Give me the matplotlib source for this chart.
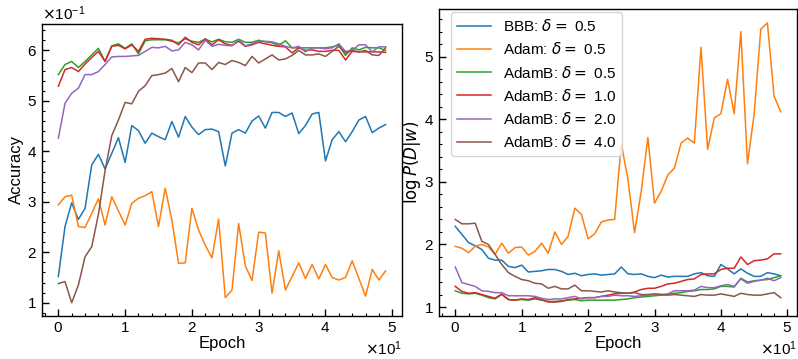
import numpy as np
import matplotlib
matplotlib.use("Agg")
import matplotlib.pyplot as plt

plt.rcParams['font.family'] = ['Liberation Sans', 'DejaVu Sans']
plt.rcParams['axes.linewidth'] = 1.0

epochs = np.arange(50)
labels = [r"BBB: $\delta=$ 0.5", r"Adam: $\delta=$ 0.5", r"AdamB: $\delta=$ 0.5",
          r"AdamB: $\delta=$ 1.0", r"AdamB: $\delta=$ 2.0", r"AdamB: $\delta=$ 4.0"]

# accuracy (units of 0.1)
acc_bbb = [1.52, 2.51, 2.98, 2.65, 2.87, 3.73, 3.94, 3.65, 3.96, 4.27,
           3.78, 4.51, 4.41, 4.16, 4.36, 4.29, 4.23, 4.59, 4.28, 4.69,
           4.48, 4.33, 4.43, 4.44, 4.39, 3.71, 4.36, 4.43, 4.36, 4.60,
           4.70, 4.46, 4.77, 4.77, 4.69, 4.76, 4.35, 4.51, 4.74, 4.77,
           3.81, 4.23, 4.39, 4.19, 4.39, 4.62, 4.69, 4.37, 4.46, 4.53]
acc_adam = [2.94, 3.10, 3.13, 2.51, 2.49, 2.77, 3.06, 2.54, 3.10, 2.82,
            2.54, 2.97, 3.07, 3.12, 3.20, 2.51, 3.27, 2.64, 1.78, 1.79,
            2.87, 2.44, 2.14, 1.89, 2.66, 1.10, 1.25, 2.57, 1.73, 1.44,
            2.40, 2.38, 1.19, 2.03, 1.25, 1.52, 1.79, 1.48, 1.76, 1.47,
            1.76, 1.50, 1.45, 1.50, 1.83, 1.48, 1.13, 1.66, 1.45, 1.63]
acc_b05 = [5.52, 5.72, 5.78, 5.66, 5.78, 5.91, 6.04, 5.78, 6.09, 6.13,
           6.04, 6.13, 5.93, 6.19, 6.21, 6.21, 6.21, 6.18, 6.15, 6.23,
           6.18, 6.16, 6.22, 6.17, 6.22, 6.17, 6.16, 6.22, 6.16, 6.16,
           6.20, 6.17, 6.15, 6.10, 6.19, 6.05, 6.05, 6.05, 6.05, 6.05,
           6.05, 6.07, 6.10, 5.90, 6.05, 6.01, 6.06, 6.05, 6.05, 6.00]
acc_b10 = [5.29, 5.62, 5.66, 5.58, 5.73, 5.86, 5.98, 5.78, 6.08, 6.10,
           6.03, 6.11, 5.98, 6.22, 6.24, 6.23, 6.22, 6.20, 6.11, 6.26,
           6.16, 6.11, 6.23, 6.11, 6.21, 6.13, 6.10, 6.18, 6.08, 6.11,
           6.16, 6.13, 6.10, 6.08, 6.07, 5.95, 6.05, 6.00, 6.01, 5.98,
           5.98, 6.00, 6.00, 5.81, 5.98, 5.97, 5.97, 5.97, 5.97, 5.96]
acc_b20 = [4.26, 4.95, 5.15, 5.25, 5.52, 5.52, 5.58, 5.72, 5.87, 5.88,
           5.88, 5.89, 5.90, 5.98, 6.06, 6.05, 6.08, 5.99, 6.01, 6.16,
           6.11, 6.01, 6.20, 6.08, 6.12, 6.10, 6.09, 6.21, 6.09, 6.13,
           6.18, 6.18, 6.17, 6.13, 6.08, 6.05, 6.08, 5.97, 6.05, 6.05,
           6.03, 6.05, 6.13, 5.98, 6.00, 6.11, 6.11, 5.97, 6.07, 6.07]
acc_b40 = [1.38, 1.42, 1.00, 1.35, 1.91, 2.11, 2.75, 3.62, 4.31, 4.62,
           4.97, 4.94, 5.19, 5.30, 5.50, 5.52, 5.55, 5.64, 5.38, 5.66,
           5.56, 5.75, 5.75, 5.62, 5.76, 5.72, 5.80, 5.76, 5.70, 5.88,
           5.75, 5.83, 5.91, 5.81, 5.83, 5.90, 6.00, 5.91, 5.91, 5.93,
           5.88, 5.98, 6.08, 5.95, 6.00, 5.97, 6.00, 5.91, 5.90, 6.05]

# log P(D|w)
lp_bbb = [2.29, 2.16, 2.03, 1.98, 1.92, 1.78, 1.75, 1.75, 1.65, 1.63,
          1.67, 1.56, 1.57, 1.58, 1.60, 1.60, 1.57, 1.52, 1.54, 1.50,
          1.52, 1.53, 1.51, 1.52, 1.53, 1.64, 1.53, 1.52, 1.53, 1.49,
          1.47, 1.51, 1.48, 1.49, 1.49, 1.49, 1.53, 1.55, 1.50, 1.49,
          1.68, 1.61, 1.53, 1.61, 1.54, 1.49, 1.49, 1.55, 1.53, 1.50]
lp_adam = [1.97, 1.94, 1.87, 1.97, 2.00, 1.96, 1.84, 2.02, 1.86, 1.95,
           1.96, 1.83, 1.89, 2.02, 1.86, 2.20, 2.00, 2.13, 2.58, 2.48,
           2.09, 2.17, 2.36, 2.39, 2.40, 3.61, 3.04, 2.19, 2.85, 3.71,
           2.66, 2.85, 3.11, 3.22, 3.62, 3.70, 3.62, 5.15, 3.52, 4.02,
           4.09, 4.64, 4.09, 5.40, 3.29, 4.08, 5.44, 5.54, 4.37, 4.12]
lp_b05 = [1.26, 1.22, 1.21, 1.22, 1.19, 1.15, 1.13, 1.20, 1.12, 1.11,
          1.12, 1.11, 1.13, 1.11, 1.09, 1.09, 1.10, 1.11, 1.12, 1.10,
          1.11, 1.11, 1.11, 1.11, 1.11, 1.12, 1.13, 1.15, 1.16, 1.17,
          1.18, 1.19, 1.20, 1.22, 1.23, 1.25, 1.26, 1.28, 1.28, 1.29,
          1.33, 1.33, 1.32, 1.46, 1.40, 1.42, 1.43, 1.44, 1.47, 1.50]
lp_b10 = [1.33, 1.25, 1.22, 1.23, 1.20, 1.17, 1.14, 1.21, 1.12, 1.11,
          1.13, 1.12, 1.15, 1.12, 1.08, 1.08, 1.09, 1.12, 1.13, 1.14,
          1.15, 1.15, 1.17, 1.19, 1.21, 1.22, 1.22, 1.24, 1.28, 1.30,
          1.30, 1.33, 1.37, 1.38, 1.41, 1.44, 1.45, 1.52, 1.53, 1.53,
          1.60, 1.62, 1.62, 1.80, 1.68, 1.74, 1.75, 1.77, 1.85, 1.85]
lp_b20 = [1.64, 1.39, 1.36, 1.33, 1.26, 1.25, 1.23, 1.23, 1.18, 1.18,
          1.18, 1.18, 1.17, 1.14, 1.12, 1.13, 1.13, 1.15, 1.17, 1.13,
          1.15, 1.15, 1.17, 1.17, 1.19, 1.18, 1.18, 1.17, 1.18, 1.19,
          1.20, 1.20, 1.21, 1.26, 1.26, 1.26, 1.27, 1.33, 1.31, 1.31,
          1.34, 1.36, 1.33, 1.45, 1.38, 1.41, 1.43, 1.46, 1.42, 1.47]
lp_b40 = [2.40, 2.33, 2.33, 2.34, 2.05, 2.00, 1.84, 1.68, 1.55, 1.49,
          1.44, 1.42, 1.38, 1.37, 1.30, 1.33, 1.29, 1.29, 1.35, 1.26,
          1.26, 1.25, 1.24, 1.26, 1.24, 1.23, 1.22, 1.23, 1.20, 1.20,
          1.21, 1.20, 1.19, 1.20, 1.19, 1.18, 1.17, 1.20, 1.19, 1.19,
          1.21, 1.19, 1.17, 1.22, 1.20, 1.19, 1.19, 1.21, 1.23, 1.15]

acc_series = [acc_bbb, acc_adam, acc_b05, acc_b10, acc_b20, acc_b40]
lp_series = [lp_bbb, lp_adam, lp_b05, lp_b10, lp_b20, lp_b40]

fig = plt.figure(figsize=(7.98, 3.59), dpi=100)
ax1 = fig.add_axes([0.0526, 0.1198, 0.4511, 0.8134])
ax2 = fig.add_axes([0.5501, 0.1198, 0.4486, 0.8552])

for s, lab in zip(acc_series, labels):
    ax1.plot(epochs, np.array(s) * 0.1, lw=1.1, label=lab)
for s, lab in zip(lp_series, labels):
    ax2.plot(epochs, s, lw=1.1, label=lab)

ax1.set_ylabel("Accuracy", fontsize=12, labelpad=2)
ax2.set_ylabel(r"$\log P(D|w)$", fontsize=12, labelpad=1)
for ax in (ax1, ax2):
    ax.set_xlabel("Epoch", fontsize=12, labelpad=1)
    ax.ticklabel_format(style='sci', scilimits=(0, 0), useMathText=True)
    ax.minorticks_on()
    ax.tick_params(which='both', direction='in', top=False, right=False, labelsize=11)
    ax.tick_params(which='major', length=5, width=1)
    ax.tick_params(which='minor', length=2.5, width=0.8)
    ax.xaxis.get_offset_text().set_fontsize(11)
    ax.yaxis.get_offset_text().set_fontsize(11)

ax2.legend(loc='upper left', fontsize=11, labelspacing=0.47, handlelength=2.2,
           borderaxespad=0, bbox_to_anchor=(0.033, 0.99))

fig.savefig("out.png", dpi=100)
